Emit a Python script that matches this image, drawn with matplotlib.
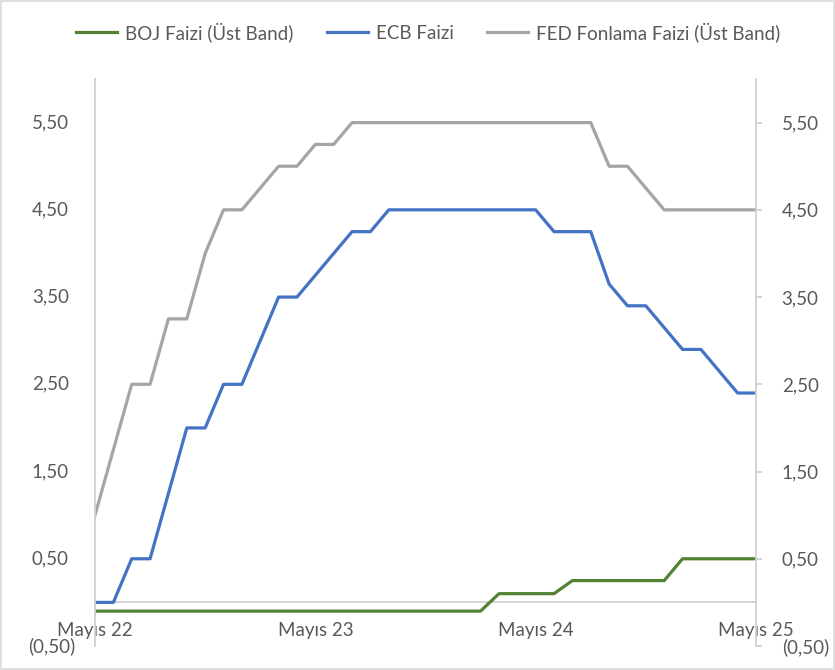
import numpy as np
import matplotlib
matplotlib.use("Agg")
import matplotlib.pyplot as plt
import matplotlib.transforms as mtransforms
from matplotlib.patches import Rectangle

plt.rcParams['font.family'] = ['Lato', 'DejaVu Sans']

# --- data: monthly, Mayıs 2022 -> Mayıs 2025 ---
months = ["May22", "Haz22", "Tem22", "Ağu22", "Eyl22", "Eki22", "Kas22", "Ara22",
          "Oca23", "Şub23", "Mar23", "Nis23", "May23", "Haz23", "Tem23", "Ağu23",
          "Eyl23", "Eki23", "Kas23", "Ara23", "Oca24", "Şub24", "Mar24", "Nis24",
          "May24", "Haz24", "Tem24", "Ağu24", "Eyl24", "Eki24", "Kas24", "Ara24",
          "Oca25", "Şub25", "Mar25", "Nis25", "May25"]

boj = [-0.10] * 22 + [0.10] * 4 + [0.25] * 6 + [0.50] * 5

ecb = [0.00, 0.00, 0.50, 0.50, 1.25, 2.00, 2.00, 2.50,
       2.50, 3.00, 3.50, 3.50, 3.75, 4.00, 4.25, 4.25,
       4.50, 4.50, 4.50, 4.50, 4.50, 4.50, 4.50, 4.50,
       4.50, 4.25, 4.25, 4.25, 3.65, 3.40, 3.40, 3.15,
       2.90, 2.90, 2.65, 2.40, 2.40]

fed = [1.00, 1.75, 2.50, 2.50, 3.25, 3.25, 4.00, 4.50,
       4.50, 4.75, 5.00, 5.00, 5.25, 5.25, 5.50, 5.50,
       5.50, 5.50, 5.50, 5.50, 5.50, 5.50, 5.50, 5.50,
       5.50, 5.50, 5.50, 5.50, 5.00, 5.00, 4.75, 4.50,
       4.50, 4.50, 4.50, 4.50, 4.50]

xtick_pos = [0, 12, 24, 36]
xtick_labels = ["Mayıs 22", "Mayıs 23", "Mayıs 24", "Mayıs 25"]
ytick_vals = [-0.5, 0.5, 1.5, 2.5, 3.5, 4.5, 5.5]


def fmt(v):
    s = f"{abs(v):.2f}".replace(".", ",")
    return f"({s})" if v < 0 else s


TXT = '#595959'
AXC = '#D0D0D0'
FS = 13.5

fig = plt.figure(figsize=(8.35, 6.7), dpi=100)
ax = fig.add_axes([95 / 835, 1 - 646 / 670, (756 - 95) / 835, (646 - 79) / 670])

x = np.arange(len(months))
ax.plot(x, boj, color='#548235', lw=2.3, label='BOJ Faizi (Üst Band)', solid_joinstyle='round')
ax.plot(x, ecb, color='#4472C4', lw=2.3, label='ECB Faizi', solid_joinstyle='round')
ax.plot(x, fed, color='#A5A5A5', lw=2.3, label='FED Fonlama Faizi (Üst Band)', solid_joinstyle='round')

ax.set_xlim(0, len(months) - 1)
ax.set_ylim(-0.5, 6.0)

# x axis crosses at zero
ax.spines['bottom'].set_position(('data', 0))
ax.spines['bottom'].set_color(AXC)
ax.spines['top'].set_visible(False)
ax.spines['left'].set_color(AXC)
ax.spines['right'].set_color(AXC)
for s in ax.spines.values():
    s.set_linewidth(1.3)
ax.spines['bottom'].set_zorder(1)

ax.set_xticks(xtick_pos)
ax.set_xticklabels(xtick_labels)
ax.tick_params(axis='x', length=0, pad=14, labelsize=FS, labelcolor=TXT)

# left axis: Excel accounting style, positives leave room for ")"
ax.set_yticks(ytick_vals)
ax.set_yticklabels([])
ax.tick_params(axis='y', length=0)
ytrans = ax.get_yaxis_transform()
for v in ytick_vals:
    dx = -20 if v < 0 else -26
    off = mtransforms.ScaledTranslation(dx / 100, 0, fig.dpi_scale_trans)
    ax.text(0, v, fmt(v), transform=ytrans + off, ha='right', va='center',
            fontsize=FS, color=TXT)

ax2 = ax.twinx()
ax2.set_ylim(ax.get_ylim())
ax2.set_yticks(ytick_vals)
ax2.set_yticklabels([fmt(v) for v in ytick_vals])
ax2.tick_params(axis='y', direction='out', length=4.5, width=1.3, color=AXC,
                pad=14, labelsize=FS, labelcolor=TXT)
for s in ax2.spines.values():
    s.set_visible(False)

leg = fig.legend(loc='center', bbox_to_anchor=(428 / 835, 1 - 32 / 670), ncol=3,
                 frameon=False, fontsize=FS, labelcolor=TXT, handlelength=2.2,
                 handletextpad=0.4, columnspacing=1.8)

fig.patches.append(Rectangle((0.001, 0.001), 0.998, 0.998, transform=fig.transFigure,
                             fill=False, edgecolor='#D9D9D9', lw=1.2))

fig.savefig('out.png', dpi=100)
